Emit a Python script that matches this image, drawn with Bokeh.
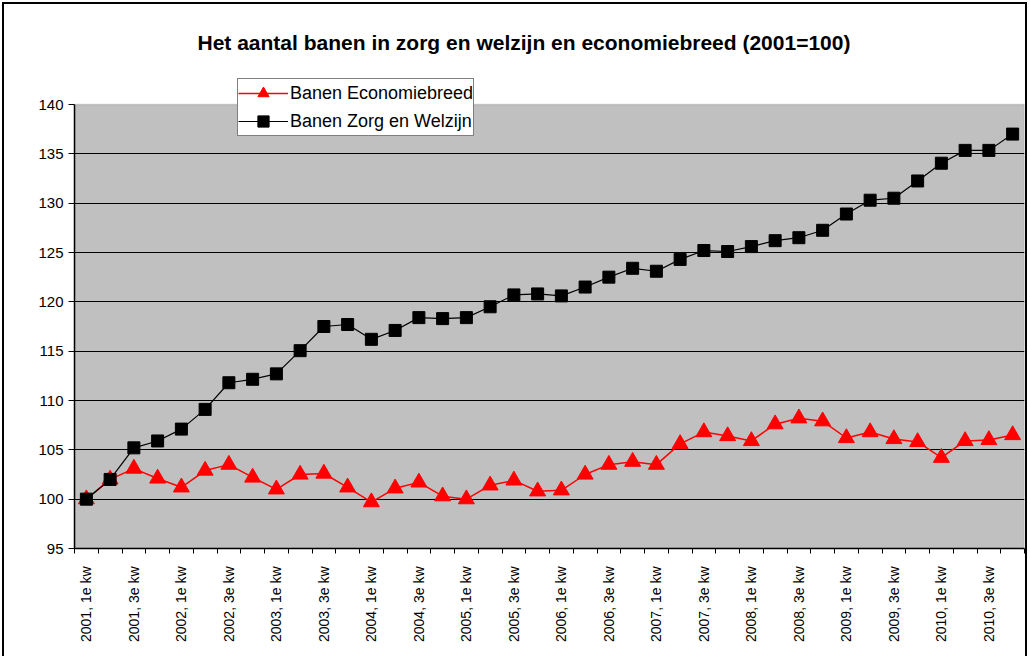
import numpy as np
from bokeh.plotting import figure
from bokeh.models import (FixedTicker, Legend, LegendItem, Title, Range1d, BoxAnnotation,
                          InlineStyleSheet)
from bokeh.embed import file_html
from bokeh.resources import INLINE

years = list(range(2001, 2011))
quarters_nl = ["1e kw", "2e kw", "3e kw", "4e kw"]
quarters = [f"{y}, {q}" for y in years for q in quarters_nl]

economiebreed = [100.0, 102.0, 103.1, 102.1, 101.2, 102.9, 103.5, 102.2, 101.0, 102.5,
                 102.6, 101.2, 99.7, 101.1, 101.7, 100.3, 100.0, 101.4, 101.9, 100.8,
                 100.9, 102.5, 103.5, 103.8, 103.5, 105.6, 106.8, 106.4, 105.9, 107.6,
                 108.2, 107.9, 106.2, 106.8, 106.1, 105.8, 104.2, 105.9, 106.0, 106.5]

zorg_welzijn = [100.0, 102.0, 105.2, 105.9, 107.1, 109.1, 111.8, 112.15, 112.7, 115.05,
                117.5, 117.7, 116.2, 117.1, 118.4, 118.3, 118.4, 119.5, 120.7, 120.8,
                120.6, 121.5, 122.5, 123.4, 123.1, 124.3, 125.2, 125.1, 125.6, 126.2,
                126.5, 127.25, 128.9, 130.3, 130.5, 132.25, 134.05, 135.35, 135.35, 137.0]

y_min, y_max = 95, 140
y_ticks = list(range(y_min, y_max + 1, 5))

x = list(range(len(quarters)))
label_idx = [i for i in x if i % 2 == 0]

FONT = "Liberation Sans"

# layout (pixels)
W, H = 1028, 656
TOP, BOTTOM, LEFT, RIGHT = 78, 108, 74, 4
frame_h = H - TOP - BOTTOM
px_per_unit = 444 / (y_max - y_min)
y_top = y_min + frame_h / px_per_unit

p = figure(width=W, height=H, output_backend="svg", toolbar_location=None,
           x_range=Range1d(-0.5, len(quarters) - 0.5), y_range=Range1d(y_min, y_top),
           min_border_left=LEFT, min_border_right=RIGHT, min_border_top=TOP,
           min_border_bottom=BOTTOM)
p.background_fill_color = "white"
p.border_fill_color = "white"
p.border_fill_alpha = 0.0
p.outline_line_color = None
p.stylesheets = [InlineStyleSheet(css=(
    ":host { background-color: white;"
    " background-image: linear-gradient(#000, #000), linear-gradient(#000, #000), linear-gradient(#000, #000);"
    " background-position: 2px 2px, 2px 2px, calc(100% - 1px) 2px;"
    " background-size: 2px calc(100% - 2px), calc(100% - 4px) 2px, 2px calc(100% - 2px);"
    " background-repeat: no-repeat; }"))]

# plot area (grey) with grey top/right border
plot_area = BoxAnnotation(bottom=y_min, top=y_max, fill_color="#C0C0C0", fill_alpha=1.0,
                          line_color="#808080", line_width=1.5, level="image")
p.add_layout(plot_area)

p.xgrid.visible = False
p.ygrid.grid_line_color = "black"
p.ygrid.grid_line_width = 1.2
p.ygrid.ticker = FixedTicker(ticks=y_ticks[:-1])

xa = p.xaxis[0]
xa.ticker = FixedTicker(ticks=label_idx, minor_ticks=[i - 0.5 for i in range(len(quarters) + 1)])
xa.major_label_overrides = {i: quarters[i] for i in label_idx}
xa.major_label_orientation = np.pi / 2
xa.major_tick_line_color = None
xa.major_tick_out = 5
xa.major_tick_in = 0
xa.minor_tick_line_color = "black"
xa.minor_tick_out = 5
xa.minor_tick_in = 0
xa.major_label_standoff = 13
xa.axis_line_color = "black"
xa.axis_line_width = 1.5
xa.major_label_text_font = FONT
xa.major_label_text_font_size = "14px"
xa.major_label_text_color = "black"

ya = p.yaxis[0]
ya.ticker = FixedTicker(ticks=y_ticks)
ya.bounds = (y_min, y_max)
ya.major_tick_out = 6
ya.major_tick_in = 0
ya.major_tick_line_color = "black"
ya.minor_tick_line_color = None
ya.axis_line_color = "black"
ya.axis_line_width = 1.5
ya.major_label_standoff = 5
ya.major_label_text_font = FONT
ya.major_label_text_font_size = "15px"
ya.major_label_text_color = "black"

r_eco_l = p.line(x, economiebreed, line_color="#FF0000", line_width=1.5)
r_eco_m = p.scatter(x, economiebreed, marker="triangle", size=16, fill_color="#FF0000",
                    line_color="#FF0000")
r_zorg_l = p.line(x, zorg_welzijn, line_color="black", line_width=1.2)
r_zorg_m = p.scatter(x, zorg_welzijn, marker="square", size=12, fill_color="black",
                     line_color="black")

legend = Legend(items=[LegendItem(label="Banen Economiebreed", renderers=[r_eco_l, r_eco_m]),
                       LegendItem(label="Banen Zorg en Welzijn", renderers=[r_zorg_l, r_zorg_m])],
                location=(163, 412), orientation="vertical",
                label_text_font=FONT, label_text_font_size="18px", label_text_color="black",
                glyph_width=50, glyph_height=28, label_height=28, label_standoff=2,
                padding=0, spacing=0, margin=0,
                border_line_color="black", border_line_width=1,
                background_fill_color="white", background_fill_alpha=1.0)
p.add_layout(legend, "center")

title = Title(text="Het aantal banen in zorg en welzijn en economiebreed (2001=100)",
              align="left", offset=123, standoff=50,
              text_font=FONT, text_font_size="21px", text_font_style="bold", text_color="black")
p.add_layout(title, "above")

open("out.html", "w").write(file_html(p, INLINE))
